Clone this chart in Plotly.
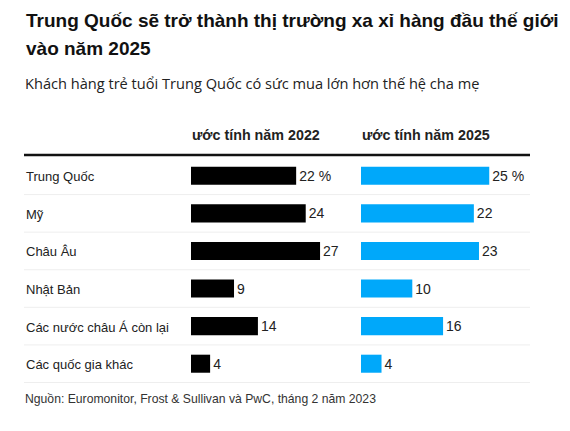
import plotly.graph_objects as go

categories = ["Trung Quốc", "Mỹ", "Châu Âu", "Nhật Bản", "Các nước châu Á còn lại", "Các quốc gia khác"]
values_2022 = [22, 24, 27, 9, 14, 4]
values_2025 = [25, 22, 23, 10, 16, 4]
labels_2022 = ["22 %", "24", "27", "9", "14", "4"]
labels_2025 = ["25 %", "22", "23", "10", "16", "4"]

W, H = 570, 431
def px(x):
    return x / W
def py(y):
    return 1 - y / H

FONT = "Liberation Sans, Arial, sans-serif"

fig = go.Figure()
fig.add_trace(go.Bar(
    y=categories, x=values_2022, orientation="h", xaxis="x", yaxis="y",
    marker=dict(color="#000000", line=dict(width=0)),
    text=labels_2022, textposition="outside", cliponaxis=False,
    textfont=dict(family=FONT, size=14, color="#222222"),
    hoverinfo="skip", showlegend=False,
))
fig.add_trace(go.Bar(
    y=categories, x=values_2025, orientation="h", xaxis="x2", yaxis="y",
    marker=dict(color="#00A8FA", line=dict(width=0)),
    text=labels_2025, textposition="outside", cliponaxis=False,
    textfont=dict(family=FONT, size=14, color="#222222"),
    hoverinfo="skip", showlegend=False,
))

shapes = []
shapes.append(dict(type="line", xref="paper", yref="paper", x0=px(24), x1=px(530),
                   y0=py(155), y1=py(155), line=dict(color="#111111", width=2.5)))
for i in range(len(categories)):
    shapes.append(dict(type="line", xref="paper", yref="y", x0=px(24), x1=px(530),
                       y0=i + 0.5, y1=i + 0.5, line=dict(color="#EEEEEE", width=1), layer="below"))

annotations = [
    dict(text="<b>Trung Quốc sẽ trở thành thị trường xa xỉ hàng đầu thế giới</b>", x=px(24), y=py(20),
         xref="paper", yref="paper", xanchor="left", yanchor="middle", showarrow=False,
         font=dict(family=FONT, size=19, color="#111111")),
    dict(text="<b>vào năm 2025</b>", x=px(24), y=py(48),
         xref="paper", yref="paper", xanchor="left", yanchor="middle", showarrow=False,
         font=dict(family=FONT, size=19, color="#111111")),
    dict(text="Khách hàng trẻ tuổi Trung Quốc có sức mua lớn hơn thế hệ cha mẹ", x=px(23), y=py(83),
         xref="paper", yref="paper", xanchor="left", yanchor="middle", showarrow=False,
         font=dict(family="Open Sans, sans-serif", size=14.6, color="#222222")),
    dict(text="<b>ước tính năm 2022</b>", x=px(190), y=py(135),
         xref="paper", yref="paper", xanchor="left", yanchor="middle", showarrow=False,
         font=dict(family=FONT, size=14.3, color="#222222")),
    dict(text="<b>ước tính năm 2025</b>", x=px(360), y=py(135),
         xref="paper", yref="paper", xanchor="left", yanchor="middle", showarrow=False,
         font=dict(family=FONT, size=14.3, color="#222222")),
    dict(text="Nguồn: Euromonitor, Frost & Sullivan và PwC, tháng 2 năm 2023", x=px(23), y=py(399),
         xref="paper", yref="paper", xanchor="left", yanchor="middle", showarrow=False,
         font=dict(family=FONT, size=12.2, color="#333333")),
]
for c in categories:
    annotations.append(dict(text=c, x=px(24), y=c, xref="paper", yref="y", xanchor="left",
                            yanchor="middle", yshift=-1, showarrow=False,
                            font=dict(family=FONT, size=13, color="#222222")))

fig.update_layout(
    width=W, height=H,
    margin=dict(l=0, r=0, t=0, b=0),
    paper_bgcolor="white", plot_bgcolor="rgba(0,0,0,0)",
    bargap=0.52,
    xaxis=dict(domain=[px(191), px(191 + 4.78 * 30)], range=[0, 30], visible=False, fixedrange=True),
    xaxis2=dict(domain=[px(361), px(361 + 5.13 * 30)], range=[0, 30], visible=False, fixedrange=True),
    yaxis=dict(domain=[py(383), py(157)], autorange="reversed", visible=False, fixedrange=True),
    shapes=shapes,
    annotations=annotations,
)

fig.write_html("out.html")
